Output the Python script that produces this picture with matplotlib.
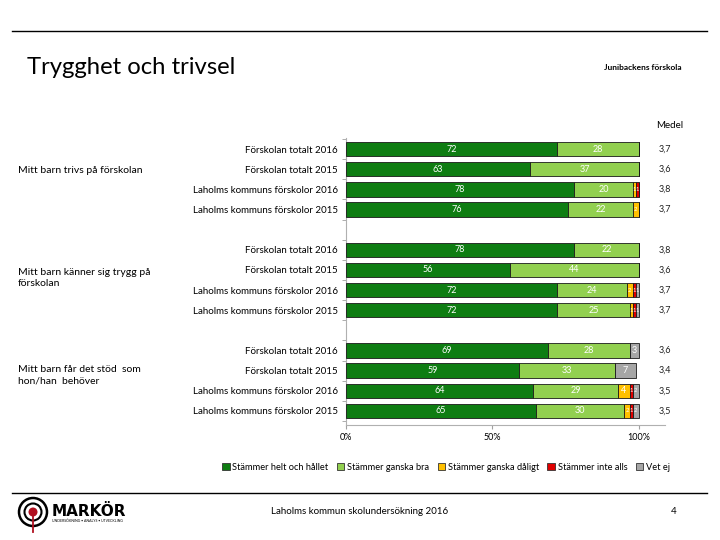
import matplotlib
matplotlib.use("Agg")
import matplotlib.pyplot as plt
from matplotlib.patches import Circle, Rectangle
import numpy as np

plt.rcParams['font.family'] = ['Lato', 'DejaVu Sans']

# ---- data ----
questions = ["Mitt barn trivs på förskolan",
             "Mitt barn känner sig trygg på\nförskolan",
             "Mitt barn får det stöd  som\nhon/han  behöver"]
rows = ["Förskolan totalt 2016", "Förskolan totalt 2015",
        "Laholms kommuns förskolor 2016", "Laholms kommuns förskolor 2015"]
series = ["Stämmer helt och hållet", "Stämmer ganska bra", "Stämmer ganska dåligt",
          "Stämmer inte alls", "Vet ej"]
helt   = [72, 63, 78, 76,  78, 56, 72, 72,  69, 59, 64, 65]
bra    = [28, 37, 20, 22,  22, 44, 24, 25,  28, 33, 29, 30]
daligt = [0, 0, 1, 2,      0, 0, 2, 1,      0, 0, 4, 2]
inte   = [0, 0, 1, 0,      0, 0, 1, 1,      0, 0, 1, 1]
vetej  = [0, 0, 0, 0,      0, 0, 1, 1,      3, 7, 2, 2]
medel  = ["3,7", "3,6", "3,8", "3,7", "3,8", "3,6", "3,7", "3,7", "3,6", "3,4", "3,5", "3,5"]
xticks = [0, 50, 100]
xticklabels = ["0%", "50%", "100%"]

colors = ["#0e7d12", "#92d050", "#ffc000", "#e00000", "#a6a6a6"]

W, H = 720, 540
fig = plt.figure(figsize=(7.2, 5.4), dpi=100)

def fx(x): return x / W
def fy(y): return 1 - y / H

# axes
ax = fig.add_axes([fx(346), fy(425), (665 - 346) / W, (425 - 138) / H])
positions = []
for g in range(3):
    for r in range(4):
        positions.append(g * 5 + r)
positions = np.array(positions)

data = [helt, bra, daligt, inte, vetej]
left = np.zeros(len(positions))
for k, vals in enumerate(data):
    vals = np.array(vals, dtype=float)
    ax.barh(positions, vals, left=left, height=0.72, color=colors[k],
            edgecolor="#1a1a1a", linewidth=0.6, label=series[k], zorder=3)
    for p, l, v in zip(positions, left, vals):
        if v > 0:
            fs = 6.5 if v >= 3 else 4.2
            ax.text(l + v / 2, p, f"{int(v)}", ha="center", va="center",
                    color="white", fontsize=fs, zorder=4, clip_on=False)
    left = left + vals

for p, m in zip(positions, medel):
    ax.text(109, p, m, ha="center", va="center", fontsize=6.5, color="#222222",
            clip_on=False)

ax.set_xlim(0, 109)
ax.set_ylim(13.7, -0.55)
ax.set_xticks(xticks)
ax.set_xticklabels(xticklabels, fontsize=6.5)
ax.tick_params(axis="x", length=3, color="#a0a0a0", pad=3)
ax.set_yticks(positions)
ax.set_yticklabels([rows[i % 4] for i in range(12)], fontsize=7)
ax.tick_params(axis="y", length=0, pad=6)
ax.set_yticks(np.concatenate([positions - 0.5, [3.5, 8.5, 13.5]]), minor=True)
ax.tick_params(axis="y", which="minor", length=3, color="#a0a0a0")
for s in ["top", "right"]:
    ax.spines[s].set_visible(False)
ax.spines["left"].set_color("#b0b0b0")
ax.spines["bottom"].set_color("#b0b0b0")
ax.spines["left"].set_linewidth(0.8)
ax.spines["bottom"].set_linewidth(0.8)

# legend
handles = [Rectangle((0, 0), 1, 1, facecolor=c, edgecolor="#333333", linewidth=0.6) for c in colors]
fig.legend(handles, series, loc="center", bbox_to_anchor=(fx(446), fy(467)),
           ncol=5, frameon=False, fontsize=6.7, handlelength=0.8, handleheight=0.8,
           columnspacing=0.9, handletextpad=0.3)

# question labels
fig.text(fx(18), fy(170), questions[0], fontsize=7.5, va="center", ha="left")
fig.text(fx(18), fy(278), questions[1], fontsize=7.5, va="center", ha="left", linespacing=1.3)
fig.text(fx(18), fy(375), questions[2], fontsize=7.5, va="center", ha="left", linespacing=1.3)

# header
fig.add_artist(plt.Line2D([fx(12), fx(707)], [fy(31), fy(31)], color="black", lw=1))
fig.text(fx(27), fy(68), "Trygghet och trivsel", fontsize=17.2, va="center", ha="left")
fig.text(fx(682), fy(68), "Junibackens förskola", fontsize=6, fontweight="bold",
         va="center", ha="right")
fig.text(fx(683), fy(125), "Medel", fontsize=7, va="center", ha="right")

# footer
fig.add_artist(plt.Line2D([fx(12), fx(707)], [fy(493), fy(493)], color="black", lw=1))
fig.text(fx(360), fy(511), "Laholms kommun skolundersökning 2016", fontsize=7,
         va="center", ha="center")
fig.text(fx(674), fy(511), "4", fontsize=7, va="center", ha="center")

# logo
lax = fig.add_axes([0, 0, 1, 1], facecolor="none")
lax.set_xlim(0, W)
lax.set_ylim(H, 0)
lax.axis("off")
lax.add_patch(Circle((33, 512), 14, fill=False, edgecolor="black", lw=1.8))
lax.add_patch(Circle((33, 512), 8.5, fill=False, edgecolor="black", lw=1.5))
lax.add_patch(Circle((33, 512), 4.5, facecolor="#b01020", edgecolor="none"))
lax.plot([33, 33], [515, 532], color="#b01020", lw=1.3)
lax.text(52, 511, "MARKÖR", fontsize=11, fontweight="black", va="center",
         ha="left", family=["DejaVu Sans"])
lax.text(52, 521, "UNDERSÖKNING • ANALYS • UTVECKLING", fontsize=2.5, va="center", ha="left")

fig.savefig("out.png", dpi=100)
